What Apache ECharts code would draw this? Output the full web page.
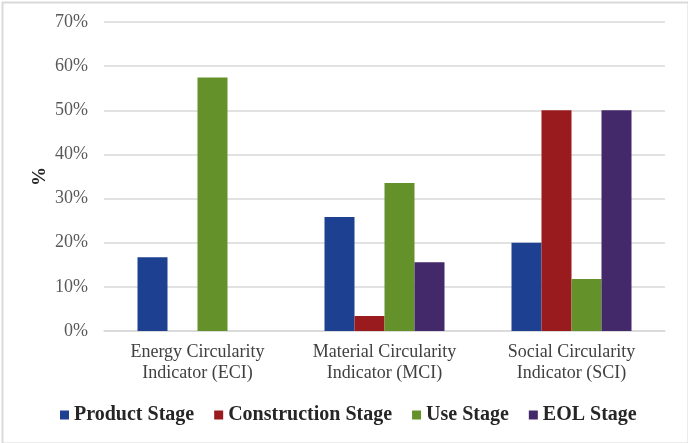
<!DOCTYPE html>
<html><head><meta charset="utf-8">
<script src="https://cdn.jsdelivr.net/npm/echarts@6/dist/echarts.min.js"></script>
<style>html,body{margin:0;padding:0;background:#fff}#c{width:688px;height:443px}</style>
</head><body><div id="c"></div>
<script>
const categories = ['Energy Circularity\nIndicator (ECI)', 'Material Circularity\nIndicator (MCI)', 'Social Circularity\nIndicator (SCI)'];
const seriesNames = ['Product Stage', 'Construction Stage', 'Use Stage', 'EOL Stage'];
const productStage = [16.7, 25.8, 20.0];
const constructionStage = [0, 3.4, 50.0];
const useStage = [57.4, 33.5, 11.8];
const eolStage = [0, 15.6, 50.0];
const colors = ['#1d4190', '#9a1b1e', '#64912a', '#44296a'];
const yTicks = [0, 10, 20, 30, 40, 50, 60, 70];

const chart = echarts.init(document.getElementById('c'));
const values = [productStage, constructionStage, useStage, eolStage];
chart.setOption({
  animation: false,
  graphic: [{type: 'rect', left: 0, top: 0, shape: {x: 1, y: 1, width: 686, height: 441},
    style: {fill: 'none', stroke: '#d9d9d9', lineWidth: 2}, silent: true}],
  grid: {left: 104, right: 23, top: 22, bottom: 112},
  legend: {
    top: 400, left: 55, itemWidth: 9, itemHeight: 9, itemGap: 20, icon: 'rect',
    textStyle: {fontFamily: 'Liberation Serif', fontWeight: 'bold', fontSize: 20, color: '#262626'},
    data: seriesNames
  },
  xAxis: {
    type: 'category', data: categories,
    axisLine: {lineStyle: {color: '#d9d9d9', width: 1.5}}, axisTick: {show: false},
    axisLabel: {fontFamily: 'Liberation Serif', fontSize: 18, color: '#404040', lineHeight: 21, margin: 11}
  },
  yAxis: {
    type: 'value', min: yTicks[0], max: yTicks[yTicks.length - 1], interval: 10,
    name: '%', nameLocation: 'middle', nameGap: 54, nameRotate: 90, nameMoveOverlap: false,
    nameTextStyle: {fontFamily: 'Liberation Serif', fontWeight: 'bold', fontSize: 19, color: '#262626'},
    axisLine: {show: false}, axisTick: {show: false},
    axisLabel: {formatter: v => v + '%', fontFamily: 'Liberation Serif', fontSize: 18, color: '#595959', margin: 16},
    splitLine: {lineStyle: {color: '#d9d9d9', width: 1.5}}
  },
  series: seriesNames.map((n, i) => ({
    name: n, type: 'bar', data: values[i], barWidth: 30, barGap: '0%',
    itemStyle: {color: colors[i]}
  }))
});
</script></body></html>
